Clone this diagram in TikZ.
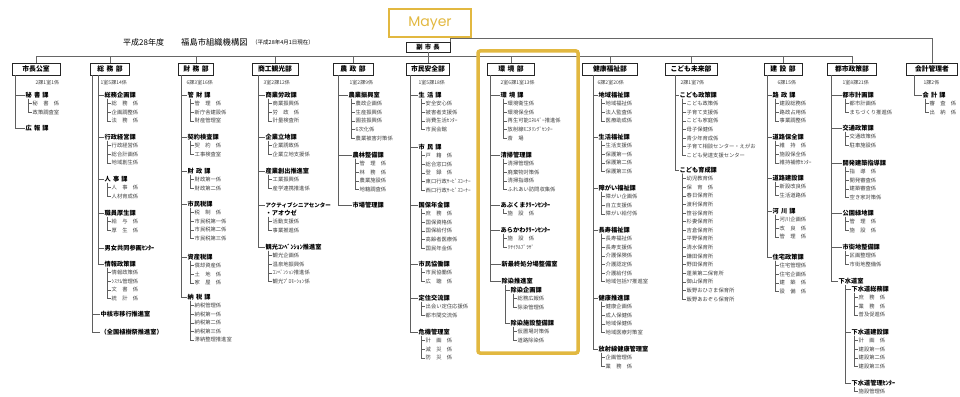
\documentclass[tikz,border=0pt]{standalone}
\usepackage{fontspec}
\setmainfont{Noto Sans CJK JP}
\newfontfamily\mayerfont{Poppins}
\usepackage{tikz}
\usetikzlibrary{positioning}
\usepackage{xcolor}
\definecolor{mayergold}{RGB}{226,184,64}
\definecolor{treegray}{RGB}{95,95,95}

\newcommand{\gap}{\hspace{0.35em}}
% heading of a ka with its kakari under it
\newcommand{\kagroup}[5]{%
  \node[ka] (#1) at (#2,#3) {#4};
  \coordinate (#1-b) at ({#2+3},{#3+3.5});
  \foreach \t [count=\i] in {#5} {
    \node[kk] (#1-\i) at ({#2+7},{#3+8.6*\i}) {\t};
    \draw[edgeline] (#1-b) |- (#1-\i.west);
  }%
}

\begin{document}
\begin{tikzpicture}[x=1pt,y=-1pt,
  bu/.style={draw=black!85,line width=0.9pt,fill=white,minimum height=12pt,inner sep=1pt,font=\fontsize{6.8}{7}\selectfont\bfseries},
  ka/.style={anchor=west,inner sep=0.5pt,font=\fontsize{6.2}{6.2}\selectfont\bfseries},
  kk/.style={anchor=west,inner sep=0.5pt,font=\fontsize{5.3}{5.3}\selectfont,text=black!75},
  memo/.style={anchor=west,inner sep=0.5pt,font=\fontsize{5}{5}\selectfont,text=black!75},
  edgeline/.style={draw=treegray,line width=0.5pt},
  bus/.style={draw=black!60,line width=0.7pt}]
\useasboundingbox (0,0) rectangle (960,396);

% title
\node[anchor=west,inner sep=0,font=\fontsize{8}{8}\selectfont] (nendo) at (123,42) {平成28年度};
\node[anchor=west,inner sep=0,font=\fontsize{8.3}{8.3}\selectfont] (title) at (181,42) {福島市組織機構図};
\node[anchor=west,inner sep=0,font=\fontsize{5.5}{5.5}\selectfont] (asof) at (252,42) {（平成28年4月1日現在）};
\node[draw=mayergold,line width=2.6pt,minimum width=82pt,minimum height=28pt,text=mayergold,font=\mayerfont\fontsize{14}{14}\selectfont] (mayer) at (430,23) {Mayer};

% top boxes
\node[bu,minimum width=44pt,minimum height=10pt,font=\fontsize{6.3}{6.5}\selectfont\bfseries] (fuku) at (428,47) {副\gap{}市\gap{}長};
\node[bu,minimum width=48pt] (d1) at (36,69) {市長公室};
\node[bu,minimum width=39pt] (d2) at (110,69) {総\gap{}務\gap{}部};
\node[bu,minimum width=35pt] (d3) at (196,69) {財\gap{}務\gap{}部};
\node[bu,minimum width=46pt] (d4) at (275,69) {商工観光部};
\node[bu,minimum width=40pt] (d5) at (353,69) {農\gap{}政\gap{}部};
\node[bu,minimum width=43pt] (d6) at (428,69) {市民安全部};
\node[bu,minimum width=47pt] (d7) at (511,69) {環\gap{}境\gap{}部};
\node[bu,minimum width=55pt] (d8) at (610,69) {健康福祉部};
\node[bu,minimum width=52pt] (d9) at (691,69) {こども未来部};
\node[bu,minimum width=38pt] (d10) at (783,69) {建\gap{}設\gap{}部};
\node[bu,minimum width=49pt] (d11) at (852,69) {都市政策部};
\node[bu,minimum width=51pt] (d12) at (932,69) {会計管理者};

\draw[bus] (d1.north) -- ++(0,-6) -| (d11.north);
\foreach \d in {d2,d3,d4,d5,d6,d7,d8,d9,d10} \draw[bus] (\d.north) -- ++(0,-6);
\draw[bus] (fuku.south) -- ++(0,5);
\draw[bus] (fuku.north east) -- ++(0,-3) -| (d12.north);

% counts
\node[memo] (m1) at (35,83) {2課1室1係};
\node[memo] (m2) at (100,83) {1室5課14係};
\node[memo] (m3) at (186,83) {6課3室16係};
\node[memo] (m4) at (263,83) {3室2課12係};
\node[memo] (m5) at (349,83) {1室2課9係};
\node[memo] (m6) at (418,83) {1室5課18係};
\node[memo] (m7) at (500,83) {2室6課1室13係};
\node[memo] (m8) at (597,83) {6課2室20係};
\node[memo] (m9) at (680,83) {2課1室7係};
\node[memo] (m10) at (777,83) {6課15係};
\node[memo] (m11) at (842,83) {1室8課21係};
\node[memo] (m12) at (923,83) {1課2係};

% 市長公室
\kagroup{g1a}{25}{95}{秘\gap{}書\gap{}課}{秘　書　係,政策調査室}
\node[ka] (g1b) at (25,128) {広\gap{}報\gap{}課};
\coordinate (s1) at (15,75);
\foreach \g in {g1a,g1b} \draw[edgeline] (s1) |- (\g.west);

% 総務部
\kagroup{g2a}{104}{95}{総務企画課}{総　務　係,企画調整係,法　務　係}
\kagroup{g2b}{104}{137}{行政経営課}{行政経営係,総合計画係,地域創生係}
\kagroup{g2c}{104}{179}{人\gap{}事\gap{}課}{人　事　係,人材育成係}
\kagroup{g2d}{104}{213}{職員厚生課}{給　与　係,厚　生　係}
\node[ka] (g2e) at (104,248) {男女共同参画ｾﾝﾀｰ};
\kagroup{g2f}{104}{264}{情報政策課}{情報政策係,ｼｽﾃﾑ管理係,文　書　係,統　計　係}
\node[ka] (g2g) at (100,314) {中核市移行推進室};
\node[ka] (g2h) at (100,332) {（全国植樹祭推進室）};
\coordinate (s2) at (92,75);
\coordinate (s2i) at (98,75);
\foreach \g in {g2a,g2b,g2c,g2d,g2e,g2f} \draw[edgeline] (s2i) |- (\g.west);
\foreach \g in {g2g,g2h} \draw[edgeline] (s2) |- (\g.west);

% 財務部
\kagroup{g3a}{187}{95}{管\gap{}財\gap{}課}{管　理　係,新庁舎建設係,財産管理室}
\kagroup{g3b}{187}{137}{契約検査課}{契　約　係,工事検査室}
\kagroup{g3c}{187}{171}{財\gap{}政\gap{}課}{財政第一係,財政第二係}
\kagroup{g3d}{187}{204}{市民税課}{税　制　係,市民税第一係,市民税第二係,市民税第三係}
\kagroup{g3e}{187}{257}{資産税課}{償却資産係,土　地　係,家　屋　係}
\kagroup{g3f}{187}{297}{納\gap{}税\gap{}課}{納税管理係,納税第一係,納税第二係,納税第三係,滞納整理推進室}
\coordinate (s3) at (181,75);
\foreach \g in {g3a,g3b,g3c,g3d,g3e,g3f} \draw[edgeline] (s3) |- (\g.west);

% 商工観光部
\kagroup{g4a}{265}{95}{商業労政課}{商業振興係,労　政　係,計量検査所}
\kagroup{g4b}{265}{137}{企業立地課}{企業誘致係,企業立地支援係}
\kagroup{g4c}{265}{171}{産業創出推進室}{工業振興係,産学連携推進係}
\node[ka,font=\fontsize{5.5}{5.5}\selectfont\bfseries] (g4d) at (265,205) {アクティブシニアセンター};
\kagroup{g4e}{265}{213}{・アオウゼ}{活動支援係,事業推進係}
\kagroup{g4f}{265}{247}{観光ｺﾝﾍﾞﾝｼｮﾝ推進室}{観光企画係,温泉地振興係,ｺﾝﾍﾞﾝｼｮﾝ推進係,観光ﾌﾟﾛﾓｰｼｮﾝ係}
\coordinate (s4) at (258,75);
\foreach \g in {g4a,g4b,g4c,g4d,g4f} \draw[edgeline] (s4) |- (\g.west);

% 農政部
\kagroup{g5a}{348}{95}{農業振興室}{農政企画係,生産振興係,園芸振興係,6次化係,農業被害対策係}
\kagroup{g5b}{352}{155}{農林整備課}{管　理　係,林　務　係,農業施設係,地籍調査係}
\node[ka] (g5c) at (352,205) {市場管理課};
\coordinate (s5) at (338,75);
\foreach \g in {g5a,g5b,g5c} \draw[edgeline] (s5) |- (\g.west);

% 市民安全部
\kagroup{g6a}{418}{95}{生\gap{}活\gap{}課}{安全安心係,被害者支援係,消費生活ｾﾝﾀｰ,市民会館}
\kagroup{g6b}{418}{147}{市\gap{}民\gap{}課}{戸　籍　係,総合窓口係,登　録　係,東口行政ｻｰﾋﾞｽｺｰﾅｰ,西口行政ｻｰﾋﾞｽｺｰﾅｰ}
\kagroup{g6c}{418}{205}{国保年金課}{庶　務　係,国保資格係,国保給付係,高齢者医療係,国民年金係}
\kagroup{g6d}{418}{264}{市民協働課}{市民協働係,広　聴　係}
\kagroup{g6e}{418}{298}{定住交流課}{出会い定住応援係,都市間交流係}
\kagroup{g6f}{418}{332}{危機管理室}{計　画　係,減　災　係,防　災　係}
\coordinate (s6) at (410,75);
\foreach \g in {g6a,g6b,g6c,g6d,g6e,g6f} \draw[edgeline] (s6) |- (\g.west);

% 環境部
\kagroup{g7a}{500}{95}{環\gap{}境\gap{}課}{環境衛生係,環境保全係,再生可能ｴﾈﾙｷﾞｰ推進係,放射線ﾓﾆﾀﾘﾝｸﾞｾﾝﾀｰ,斎　場}
\kagroup{g7b}{500}{155}{清掃管理課}{清掃管理係,廃棄物対策係,清掃指導係,ふれあい訪問収集係}
\kagroup{g7c}{500}{205}{あぶくまｸﾘｰﾝｾﾝﾀｰ}{施　設　係}
\kagroup{g7d}{500}{230}{あらかわｸﾘｰﾝｾﾝﾀｰ}{施　設　係,ﾘｻｲｸﾙﾌﾟﾗｻﾞ}
\node[ka] (g7e) at (501,264) {新最終処分場整備室};
\node[ka] (g7f) at (501,281) {除染推進室};
\kagroup{g7g}{510}{290}{除染企画課}{総務広報係,除染管理係}
\kagroup{g7h}{510}{323}{除染施設整備課}{仮置場対策係,道路除染係}
\coordinate (s7) at (490,75);
\coordinate (s7f) at (505,285);
\foreach \g in {g7a,g7b,g7c,g7d,g7e,g7f} \draw[edgeline] (s7) |- (\g.west);
\foreach \g in {g7g,g7h} \draw[edgeline] (s7f) |- (\g.west);

% 健康福祉部
\kagroup{g8a}{598}{95}{地域福祉課}{地域福祉係,法人監査係,医療助成係}
\kagroup{g8b}{598}{137}{生活福祉課}{生活支援係,保護第一係,保護第二係,保護第三係}
\kagroup{g8c}{598}{188}{障がい福祉課}{障がい企画係,自立支援係,障がい給付係}
\kagroup{g8d}{598}{230}{長寿福祉課}{長寿福祉係,長寿支援係,介護保険係,介護認定係,介護給付係,地域包括ｹｱ推進室}
\kagroup{g8e}{598}{298}{健康推進課}{健康企画係,成人保健係,地域保健係,地域医療対策室}
\kagroup{g8f}{598}{349}{放射線健康管理室}{企画管理係,業　務　係}
\coordinate (s8) at (593,75);
\foreach \g in {g8a,g8b,g8c,g8d,g8e,g8f} \draw[edgeline] (s8) |- (\g.west);

% こども未来部
\kagroup{g9a}{679}{95}{こども政策課}{こども政策係,子育て支援係,こども家庭係,母子保健係,青少年育成係,子育て相談センター・えがお,こども発達支援センター}
\kagroup{g9b}{679}{170}{こども育成課}{幼児教育係,保　育　係,春日保育所,渡利保育所,笹谷保育所,杉妻保育所,吉倉保育所,平野保育所,清水保育所,鎌田保育所,野田保育所,蓬莱第二保育所,御山保育所,飯野おひさま保育所,飯野あおぞら保育所}
\coordinate (s9) at (675,75);
\foreach \g in {g9a,g9b} \draw[edgeline] (s9) |- (\g.west);

% 建設部
\kagroup{g10a}{772}{95}{路\gap{}政\gap{}課}{建設総務係,路政占用係,事業調整係}
\kagroup{g10b}{772}{137}{道路保全課}{維　持　係,施設保全係,維持補修ｾﾝﾀｰ}
\kagroup{g10c}{772}{178}{道路建設課}{新設改良係,生活道路係}
\kagroup{g10d}{772}{211}{河\gap{}川\gap{}課}{河川企画係,改　良　係,管　理　係}
\kagroup{g10e}{772}{257}{住宅政策課}{住宅管理係,住宅企画係,建　築　係,設　備　係}
\coordinate (s10) at (767,75);
\foreach \g in {g10a,g10b,g10c,g10d,g10e} \draw[edgeline] (s10) |- (\g.west);

% 都市政策部
\kagroup{g11a}{842}{95}{都市計画課}{都市計画係,まちづくり推進係}
\kagroup{g11b}{842}{128}{交通政策課}{交通政策係,駐車施設係}
\kagroup{g11c}{842}{163}{開発建築指導課}{指　導　係,開発審査係,建築審査係,空き家対策係}
\kagroup{g11d}{842}{213}{公園緑地課}{管　理　係,施　設　係}
\kagroup{g11e}{842}{247}{市街地整備課}{区画整理係,市街地整備係}
\node[ka] (g11f) at (838,281) {下水道室};
\kagroup{g11g}{851}{289}{下水道総務課}{庶　務　係,業　務　係,普及促進係}
\kagroup{g11h}{851}{332}{下水道建設課}{計　画　係,建設第一係,建設第二係,建設第三係}
\kagroup{g11i}{851}{383}{下水道管理ｾﾝﾀｰ}{施設管理係}
\coordinate (s11) at (831,75);
\coordinate (s11f) at (845,285);
\foreach \g in {g11a,g11b,g11c,g11d,g11e,g11f} \draw[edgeline] (s11) |- (\g.west);
\foreach \g in {g11g,g11h,g11i} \draw[edgeline] (s11f) |- (\g.west);

% 会計管理者
\kagroup{g12a}{922}{95}{会\gap{}計\gap{}課}{審　査　係,出　納　係}
\coordinate (s12) at (914,75);
\draw[edgeline] (s12) |- (g12a.west);

% highlight
\draw[draw=mayergold,line width=3.5pt,rounded corners=2pt] (478,51) rectangle (578,353);
\end{tikzpicture}
\end{document}
